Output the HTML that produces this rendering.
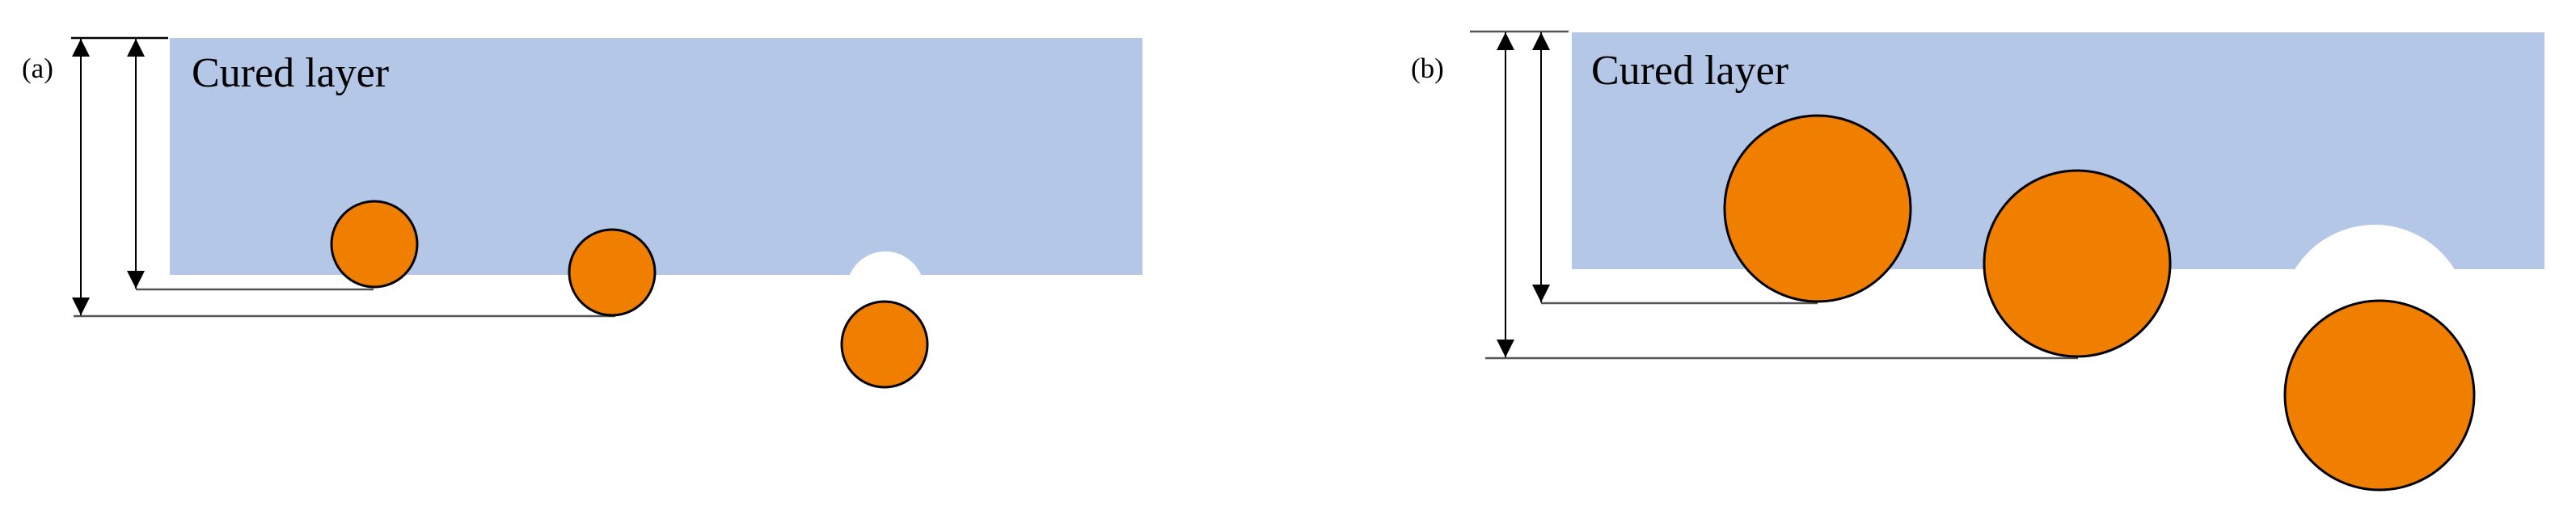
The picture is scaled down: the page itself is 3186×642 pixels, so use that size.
<!DOCTYPE html>
<html><head><style>html,body{margin:0;padding:0;background:#fff}svg{display:block}</style></head>
<body>
<svg width="3186" height="642" viewBox="0 0 3186 642" xmlns="http://www.w3.org/2000/svg" font-family="'Liberation Serif', serif">
<defs>
<marker id="ah" viewBox="0 0 10 10" refX="10" refY="5" markerWidth="22" markerHeight="22" markerUnits="userSpaceOnUse" orient="auto-start-reverse"><path d="M0,0 L10,5 L0,10 z" fill="#000"/></marker>
</defs>
<!-- (a) -->
<rect x="210" y="47" width="1203" height="293" fill="#b4c7e7"/>
<circle cx="1095" cy="359" r="48" fill="#fff"/>
<text x="237" y="107" font-size="52">Cured layer</text>
<text x="27" y="96" font-size="35">(a)</text>
<g stroke-width="2.5" fill="none">
<line x1="88" y1="47" x2="208" y2="47" stroke="#000"/>
<line x1="168" y1="358" x2="462" y2="358" stroke="#555"/>
<line x1="91" y1="391" x2="761" y2="391" stroke="#555"/>
</g>
<g stroke="#000" stroke-width="2">
<line x1="100" y1="48" x2="100" y2="390" marker-start="url(#ah)" marker-end="url(#ah)"/>
<line x1="168" y1="48" x2="168" y2="357" marker-start="url(#ah)" marker-end="url(#ah)"/>
</g>
<g fill="#f07f00" stroke="#000" stroke-width="3">
<circle cx="463" cy="302" r="53"/>
<circle cx="757" cy="337" r="53"/>
<circle cx="1094" cy="426" r="53"/>
</g>
<!-- (b) -->
<rect x="1944" y="40" width="1203" height="293" fill="#b4c7e7"/>
<circle cx="2937" cy="394" r="116" fill="#fff"/>
<text x="1968" y="104" font-size="52">Cured layer</text>
<text x="1745" y="96" font-size="35">(b)</text>
<g stroke-width="2.5" fill="none">
<line x1="1818" y1="39" x2="1940" y2="39" stroke="#555"/>
<line x1="1906" y1="375" x2="2248" y2="375" stroke="#555"/>
<line x1="1837" y1="443" x2="2570" y2="443" stroke="#555"/>
</g>
<g stroke="#000" stroke-width="2">
<line x1="1862" y1="40" x2="1862" y2="442" marker-start="url(#ah)" marker-end="url(#ah)"/>
<line x1="1906" y1="40" x2="1906" y2="374" marker-start="url(#ah)" marker-end="url(#ah)"/>
</g>
<g fill="#f07f00" stroke="#000" stroke-width="3">
<circle cx="2248" cy="258" r="115"/>
<circle cx="2569" cy="326" r="115"/>
<circle cx="2943" cy="489" r="117"/>
</g>
</svg>
</body></html>
